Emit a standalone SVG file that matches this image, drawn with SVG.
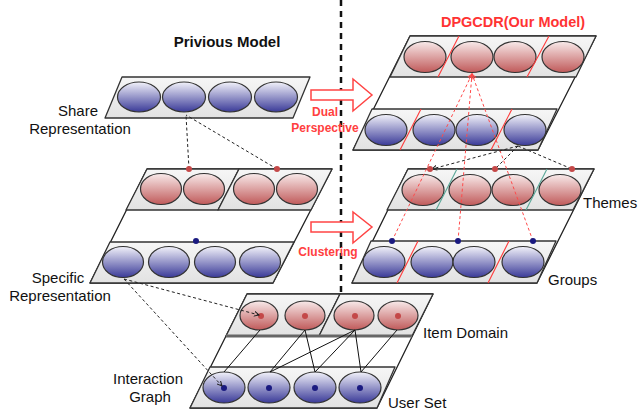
<svg xmlns="http://www.w3.org/2000/svg" width="640" height="420" viewBox="0 0 640 420">
<defs>
<linearGradient id="gb" x1="0" y1="0" x2="0" y2="1"><stop offset="0" stop-color="#f2f2fa"/><stop offset="1" stop-color="#3a3a98"/></linearGradient>
<linearGradient id="gr" x1="0" y1="0" x2="0" y2="1"><stop offset="0" stop-color="#f8eaea"/><stop offset="1" stop-color="#c05a5a"/></linearGradient>
<linearGradient id="gs" x1="0" y1="0" x2="0" y2="1"><stop offset="0" stop-color="#f6f6f6"/><stop offset="1" stop-color="#e2e2e2"/></linearGradient>
<marker id="ak" markerWidth="6" markerHeight="6" refX="5" refY="3" orient="auto" markerUnits="userSpaceOnUse"><path d="M0,0.5 L5,3 L0,5.5" fill="none" stroke="#222" stroke-width="1"/></marker>
<marker id="ar" markerWidth="6" markerHeight="6" refX="5" refY="3" orient="auto" markerUnits="userSpaceOnUse"><path d="M0,0.5 L5,3 L0,5.5" fill="none" stroke="#ff4444" stroke-width="1"/></marker>
</defs>
<style>
.strip{fill:url(#gs);stroke:#333;stroke-width:1.3;stroke-linejoin:round}
.outer{fill:#fff;stroke:#222;stroke-width:1.3;stroke-linejoin:round}
.eb{fill:url(#gb);stroke:#333;stroke-width:1.2}
.er{fill:url(#gr);stroke:#333;stroke-width:1.2}
.dr{fill:#c44848}
.db{fill:#1a1a80}
.lbl{font-family:"Liberation Sans",Arial,sans-serif;font-size:15px;fill:#111}
.ttl{font-family:"Liberation Sans",Arial,sans-serif;font-weight:bold}
.rt{font-family:"Liberation Sans",Arial,sans-serif;font-weight:bold;font-size:12px;fill:#ff4040;text-anchor:middle}
.dk{fill:none;stroke:#222;stroke-width:1;stroke-dasharray:3,2.5}
.dred{fill:none;stroke:#ff4a4a;stroke-width:1;stroke-dasharray:3,2.5}
.sol{fill:none;stroke:#111;stroke-width:1}
.rdv{stroke:#ff3b3b;stroke-width:1.1}
.tdv{stroke:#5aa898;stroke-width:1.1}
.bigarrow{fill:#fff;stroke:#ff4444;stroke-width:1.5;stroke-linejoin:miter}
</style>

<line x1="341" y1="0" x2="341" y2="293" stroke="#111" stroke-width="2.5" stroke-dasharray="6,5"/>

<text x="227" y="47" class="ttl" font-size="15" text-anchor="middle" fill="#111">Privious Model</text>
<text x="513" y="27" class="ttl" font-size="14.5" text-anchor="middle" fill="#ff3333">DPGCDR(Our Model)</text>

<g id="share-representation">
<polygon class="strip" points="122,77 310,77 293,118 105,118"/>
<ellipse class="eb" cx="139" cy="97" rx="21.5" ry="15"/>
<ellipse class="eb" cx="184" cy="97" rx="21.5" ry="15"/>
<ellipse class="eb" cx="230" cy="97" rx="21.5" ry="15"/>
<ellipse class="eb" cx="276" cy="97" rx="21.5" ry="15"/>
<text class="lbl" x="78" y="116" text-anchor="middle">Share</text>
<text class="lbl" x="80" y="134" text-anchor="middle">Representation</text>
</g>

<g id="specific-representation">
<polygon class="outer" points="147,169 332,169 273,283 90,283"/>
<polygon class="strip" points="147,169 239,169 218,210 126,210"/>
<polygon class="strip" points="239,169 332,169 311,210 218,210"/>
<polygon class="strip" points="110,242 294,242 273,283 90,283"/>
<ellipse class="er" cx="161" cy="189" rx="20.5" ry="15.5"/>
<ellipse class="er" cx="204" cy="189" rx="20.5" ry="15.5"/>
<ellipse class="er" cx="254" cy="189" rx="20.5" ry="15.5"/>
<ellipse class="er" cx="297" cy="189" rx="20.5" ry="15.5"/>
<ellipse class="eb" cx="123" cy="262" rx="20.5" ry="15.5"/>
<ellipse class="eb" cx="169" cy="262" rx="20.5" ry="15.5"/>
<ellipse class="eb" cx="215" cy="262" rx="20.5" ry="15.5"/>
<ellipse class="eb" cx="260" cy="262" rx="20.5" ry="15.5"/>
<text class="lbl" x="58" y="283" text-anchor="middle">Specific</text>
<text class="lbl" x="60" y="301" text-anchor="middle">Representation</text>
</g>

<g id="interaction-graph">
<polygon class="outer" points="247,294 433,294 377,408 190,408"/>
<polygon class="strip" points="247,294 340,294 319,336 226,336"/>
<polygon class="strip" points="340,294 433,294 412,336 319,336"/>
<line x1="226" y1="336" x2="412" y2="336" stroke="#666" stroke-width="3"/>
<polygon class="strip" points="210,367 395,367 377,408 190,408"/>
<ellipse class="er" cx="259" cy="315.5" rx="19" ry="14.5"/>
<ellipse class="er" cx="305" cy="315.5" rx="20" ry="14.5"/>
<ellipse class="er" cx="354" cy="315.5" rx="20" ry="14.5"/>
<ellipse class="er" cx="398" cy="315.5" rx="20" ry="14.5"/>
<ellipse class="eb" cx="224" cy="387.5" rx="21" ry="15.5"/>
<ellipse class="eb" cx="269" cy="387.5" rx="21" ry="15.5"/>
<ellipse class="eb" cx="315" cy="387.5" rx="21" ry="15.5"/>
<ellipse class="eb" cx="360" cy="387.5" rx="21" ry="15.5"/>
<circle class="dr" cx="261" cy="316" r="3"/>
<circle class="dr" cx="305" cy="316" r="3"/>
<circle class="dr" cx="355" cy="316" r="3"/>
<circle class="dr" cx="398" cy="316" r="3"/>
<circle class="db" cx="224" cy="388" r="3"/>
<circle class="db" cx="269" cy="388" r="3"/>
<circle class="db" cx="315" cy="388" r="3"/>
<circle class="db" cx="360" cy="388" r="3"/>
<text class="lbl" x="423" y="338">Item Domain</text>
<text class="lbl" x="388" y="408">User Set</text>
<text class="lbl" x="148" y="384" text-anchor="middle">Interaction</text>
<text class="lbl" x="150" y="402" text-anchor="middle">Graph</text>
</g>

<g id="dual-perspective">
<polygon class="outer" points="410,36 596,36 538,150 353,150"/>
<polygon class="strip" points="410,36 596,36 576,77 390,77"/>
<polygon class="strip" points="372,109 557,109 538,150 353,150"/>
<ellipse class="er" cx="425" cy="57" rx="21" ry="15.5"/>
<ellipse class="er" cx="472" cy="57" rx="21" ry="15.5"/>
<ellipse class="er" cx="515" cy="57" rx="21" ry="15.5"/>
<ellipse class="er" cx="563" cy="57" rx="21" ry="15.5"/>
<ellipse class="eb" cx="386" cy="130" rx="21" ry="15.5"/>
<ellipse class="eb" cx="434" cy="130" rx="21" ry="15.5"/>
<ellipse class="eb" cx="477" cy="130" rx="21" ry="15.5"/>
<ellipse class="eb" cx="525" cy="130" rx="21" ry="15.5"/>
<line class="rdv" x1="459" y1="36" x2="438" y2="77"/>
<line class="rdv" x1="549" y1="36" x2="527" y2="77"/>
<line class="rdv" x1="421" y1="109" x2="400" y2="150"/>
<line class="rdv" x1="512" y1="109" x2="491" y2="150"/>
</g>

<g id="themes-groups">
<polygon class="outer" points="408,169 594,169 537,283 352,283"/>
<polygon class="strip" points="408,169 594,169 573,210 387,210"/>
<polygon class="strip" points="371,241 556,241 537,283 352,283"/>
<ellipse class="er" cx="423" cy="190" rx="21" ry="15.5"/>
<ellipse class="er" cx="470" cy="190" rx="21" ry="15.5"/>
<ellipse class="er" cx="513" cy="190" rx="21" ry="15.5"/>
<ellipse class="er" cx="560" cy="190" rx="21" ry="15.5"/>
<ellipse class="eb" cx="384" cy="262" rx="21" ry="15.5"/>
<ellipse class="eb" cx="432" cy="262" rx="21" ry="15.5"/>
<ellipse class="eb" cx="474" cy="262" rx="21" ry="15.5"/>
<ellipse class="eb" cx="523" cy="262" rx="21" ry="15.5"/>
<line class="tdv" x1="457" y1="169" x2="436" y2="210"/>
<line class="tdv" x1="547" y1="169" x2="526" y2="210"/>
<line class="rdv" x1="418" y1="241" x2="397" y2="283"/>
<line class="rdv" x1="509" y1="241" x2="488" y2="283"/>
<text class="lbl" x="583" y="208">Themes</text>
<text class="lbl" x="548" y="285">Groups</text>
</g>

<g id="arrow-dual">
<polygon class="bigarrow" points="311,90 353,90 353,79 372,95 353,111 353,100 311,100"/>
<text class="rt" x="325" y="116">Dual</text>
<text class="rt" x="325" y="132">Perspective</text>
</g>
<g id="arrow-clustering">
<polygon class="bigarrow" points="311,222 353,222 353,212 372,227 353,243 353,232 311,232"/>
<text class="rt" x="328" y="256">Clustering</text>
</g>

<g id="connectors">
<line class="dk" x1="189" y1="169" x2="186" y2="115"/>
<line class="dk" x1="277" y1="169" x2="186" y2="115"/>
<line class="dk" x1="124" y1="279" x2="259" y2="315" marker-end="url(#ak)"/>
<line class="dk" x1="124" y1="279" x2="222" y2="386" marker-end="url(#ak)"/>
<line class="sol" x1="260" y1="330" x2="224" y2="372"/>
<line class="sol" x1="305" y1="330" x2="270" y2="372"/>
<line class="sol" x1="305" y1="330" x2="315" y2="372"/>
<line class="sol" x1="355" y1="330" x2="270" y2="372"/>
<line class="sol" x1="355" y1="330" x2="315" y2="372"/>
<line class="sol" x1="355" y1="330" x2="361" y2="372"/>
<line class="sol" x1="397" y1="330" x2="361" y2="372"/>
<line class="dred" x1="392" y1="241" x2="472" y2="74" marker-end="url(#ar)"/>
<line class="dred" x1="458" y1="241" x2="472" y2="74" marker-end="url(#ar)"/>
<line class="dred" x1="533" y1="241" x2="472" y2="74" marker-end="url(#ar)"/>
<line class="dk" x1="518" y1="146" x2="432" y2="169" marker-end="url(#ak)"/>
<line class="dk" x1="518" y1="146" x2="495" y2="169"/>
<line class="dk" x1="518" y1="146" x2="572" y2="169"/>
<circle class="dr" cx="189" cy="169" r="3"/>
<circle class="dr" cx="277" cy="169" r="3"/>
<circle class="db" cx="196" cy="241" r="3"/>
<circle class="dr" cx="430" cy="169" r="3"/>
<circle class="dr" cx="495" cy="169" r="3"/>
<circle class="dr" cx="572" cy="169" r="3"/>
<circle class="db" cx="392" cy="241" r="3"/>
<circle class="db" cx="458" cy="241" r="3"/>
<circle class="db" cx="533" cy="241" r="3"/>
</g>
</svg>
